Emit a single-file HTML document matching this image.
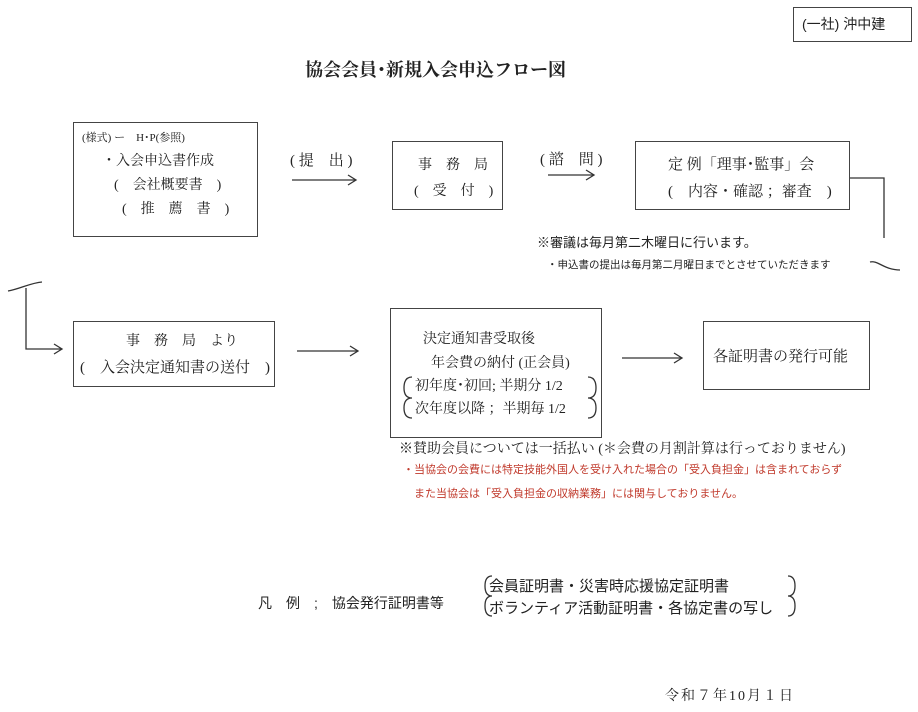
<!DOCTYPE html>
<html><head><meta charset="utf-8"><style>
body{margin:0;width:918px;height:712px;background:#fff;position:relative;overflow:hidden;font-family:"Liberation Serif","Noto Serif CJK SC","Noto Sans CJK JP",serif;color:#222}
.a{position:absolute;white-space:nowrap}
.b{position:absolute;border:1.5px solid #444;box-sizing:border-box}
.s{font-family:"Liberation Sans","Noto Sans CJK JP",sans-serif}
</style></head><body>
<div class="b" style="left:793px;top:7px;width:119px;height:35px"></div>
<div class="a s" style="left:802px;top:14px;font-size:14px">(一社) 沖中建</div>
<div class="a" style="left:305px;top:56px;font-size:18px;font-weight:bold">協会会員･新規入会申込フロー図</div>

<div class="b" style="left:73px;top:122px;width:185px;height:115px"></div>
<div class="a" style="left:82px;top:129px;font-size:11px">(様式) ー　H･P(参照)</div>
<div class="a" style="left:102px;top:150px;font-size:14px">・入会申込書作成</div>
<div class="a" style="left:114px;top:174px;font-size:14px">(　会社概要書　)</div>
<div class="a" style="left:122px;top:198px;font-size:14px">(　推　薦　書　)</div>

<div class="a" style="left:290px;top:149px;font-size:15px">( 提　出 )</div>
<div class="b" style="left:392px;top:141px;width:111px;height:69px"></div>
<div class="a" style="left:418px;top:154px;font-size:14px">事　務　局</div>
<div class="a" style="left:414px;top:180px;font-size:14px">(　受　付　)</div>
<div class="a" style="left:540px;top:148px;font-size:15px">( 諮　問 )</div>
<div class="b" style="left:635px;top:141px;width:215px;height:69px"></div>
<div class="a" style="left:668px;top:153px;font-size:15px">定 例「理事･監事」会</div>
<div class="a" style="left:668px;top:180px;font-size:15px">(　内容・確認 ；審査　)</div>

<div class="a s" style="left:537px;top:232px;font-size:13px">※審議は毎月第二木曜日に行います。</div>
<div class="a s" style="left:547px;top:257px;font-size:10.5px">・申込書の提出は毎月第二月曜日までとさせていただきます</div>

<div class="b" style="left:73px;top:321px;width:202px;height:66px"></div>
<div class="a" style="left:126px;top:330px;font-size:14px">事　務　局　より</div>
<div class="a" style="left:80px;top:356px;font-size:15px">(　入会決定通知書の送付　)</div>

<div class="b" style="left:390px;top:308px;width:212px;height:130px"></div>
<div class="a" style="left:423px;top:328px;font-size:14px">決定通知書受取後</div>
<div class="a" style="left:431px;top:352px;font-size:14px">年会費の納付 (正会員)</div>
<div class="a" style="left:415px;top:375px;font-size:14px">初年度･初回; 半期分 1/2</div>
<div class="a" style="left:415px;top:398px;font-size:14px">次年度以降 ；半期毎 1/2</div>

<div class="b" style="left:703px;top:321px;width:167px;height:69px"></div>
<div class="a" style="left:713px;top:345px;font-size:15px">各証明書の発行可能</div>

<div class="a" style="left:399px;top:438px;font-size:14px">※賛助会員については一括払い (＊会費の月割計算は行っておりません)</div>
<div class="a s" style="left:403px;top:461px;font-size:11px;color:#c0392b">・当協会の会費には特定技能外国人を受け入れた場合の「受入負担金」は含まれておらず</div>
<div class="a s" style="left:414px;top:485px;font-size:11px;color:#c0392b">また当協会は「受入負担金の収納業務」には関与しておりません。</div>

<div class="a s" style="left:258px;top:593px;font-size:14px">凡　例　;　協会発行証明書等</div>
<div class="a s" style="left:489px;top:575px;font-size:15px">会員証明書・災害時応援協定証明書</div>
<div class="a s" style="left:489px;top:597px;font-size:15px">ボランティア活動証明書・各協定書の写し</div>
<div class="a" style="left:665px;top:685px;font-size:14px;letter-spacing:2px">令和７年10月１日</div>

<svg width="918" height="712" style="position:absolute;left:0;top:0" fill="none" stroke="#333" stroke-width="1.3">
<path d="M292 180H356M348 175L356 180L348 185"/>
<path d="M548 175H594M586 170L594 175L586 180"/>
<path d="M850 178H884V238"/>
<path d="M870 262C878 260 884 270 900 270"/>
<path d="M8 291C20 289 30 283 42 282"/>
<path d="M26 288V349H62M54 344L62 349L54 354"/>
<path d="M297 351H358M350 346L358 351L350 356"/>
<path d="M622 358H682M674 353L682 358L674 363"/>
<path d="M412 377Q404 377 404 388Q404 398 412 398Q404 398 404 408Q404 418 412 418"/>
<path d="M588 377Q596 377 596 388Q596 398 588 398Q596 398 596 408Q596 418 588 418"/>
<path d="M492 576Q485 576 485 586Q485 596 492 596Q485 596 485 606Q485 616 492 616"/>
<path d="M788 576Q795 576 795 586Q795 596 788 596Q795 596 795 606Q795 616 788 616"/>
</svg>
</body></html>
